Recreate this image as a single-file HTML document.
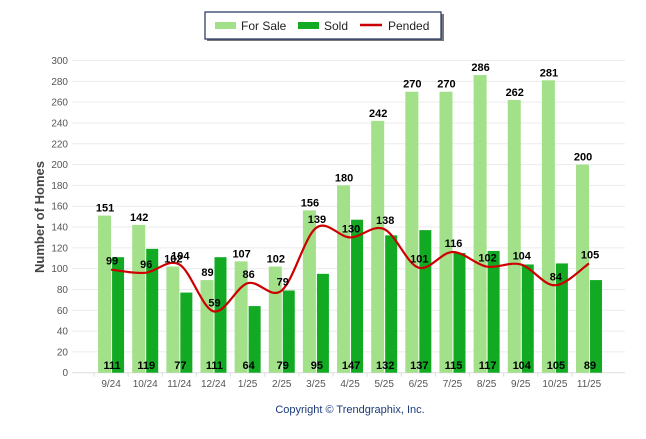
<!DOCTYPE html>
<html><head><meta charset="utf-8"><style>
body{margin:0;background:#fff;width:646px;height:434px;overflow:hidden;font-family:"Liberation Sans",Arial,sans-serif}
svg text{font-family:"Liberation Sans",Arial,sans-serif}
</style></head><body>
<svg width="646" height="434">
<g id="grid"></g><g id="bars"></g><g id="line"></g><g id="labels"></g>
<text x="44" y="217" transform="rotate(-90 44 217)" text-anchor="middle" font-size="13" font-weight="bold" fill="#444">Number of Homes</text>
<text x="350" y="413" text-anchor="middle" font-size="11" fill="#1a3a7a">Copyright © Trendgraphix, Inc.</text>
<g>
<rect x="207" y="14" width="237" height="27" fill="#777"/>
<rect x="205" y="12" width="236" height="27" fill="#fff" stroke="#1f2f5f" stroke-width="1.2"/>
<rect x="215" y="22" width="21" height="7" fill="#a3e08a"/>
<text x="241" y="30" font-size="12" fill="#222">For Sale</text>
<rect x="298" y="22" width="21" height="7" fill="#11aa22"/>
<text x="324" y="30" font-size="12" fill="#222">Sold</text>
<line x1="360" y1="25" x2="382" y2="25" stroke="#cc0000" stroke-width="2.5"/>
<text x="388" y="30" font-size="12" fill="#222">Pended</text>
</g>
</svg>
<script>
const categories=["9/24","10/24","11/24","12/24","1/25","2/25","3/25","4/25","5/25","6/25","7/25","8/25","9/25","10/25","11/25"];
const forSale=[151,142,102,89,107,102,156,180,242,270,270,286,262,281,200];
const sold=[111,119,77,111,64,79,95,147,132,137,115,117,104,105,89];
const pended=[99,96,104,59,86,79,139,130,138,101,116,102,104,84,105];
const yTicks=[0,20,40,60,80,100,120,140,160,180,200,220,240,260,280,300];
const NS="http://www.w3.org/2000/svg";
const y0=372.7,yTop=60.5,bandL=94,bandW=34.14;
const Y=v=>y0-(v/300)*(y0-yTop);
const X=i=>bandL+bandW*(i+0.5);
function mk(tag,attrs,parent,txt){const e=document.createElementNS(NS,tag);for(const k in attrs)e.setAttribute(k,attrs[k]);if(txt!==undefined)e.textContent=txt;parent.appendChild(e);return e;}
const g=document.getElementById('grid'),b=document.getElementById('bars'),l=document.getElementById('line'),lb=document.getElementById('labels');
yTicks.forEach(t=>{
 const ln=mk('line',{x1:72,x2:625,y1:Y(t),y2:Y(t),stroke:t===0?'#ddd':'#ebebeb','stroke-width':1},g);
 
 
 const tx=mk('text',{x:68,y:Y(t)+3.5,'text-anchor':'end','font-size':10,fill:'#555'},g,t);
 
 
});
categories.forEach((c,i)=>{
 const cx=X(i);
 const r1=mk('rect',{x:cx-13,y:Y(forSale[i]),width:13,height:y0-Y(forSale[i]),fill:'#a3e08a'},b);
 
 
 const r2=mk('rect',{x:cx+1,y:Y(sold[i]),width:12,height:y0-Y(sold[i]),fill:'#11aa22'},b);
 
 
 const t1=mk('text',{x:cx-6,y:Y(forSale[i])-4,'text-anchor':'middle','font-size':11,'font-weight':'bold',fill:'#000'},lb,forSale[i]);
 
 
 const t2=mk('text',{x:cx+1,y:369,'text-anchor':'middle','font-size':11,'font-weight':'bold',fill:'#000'},lb,sold[i]);
 
 
 const t3=mk('text',{x:cx+1,y:Y(pended[i])-5,'text-anchor':'middle','font-size':11,'font-weight':'bold',fill:'#000'},lb,pended[i]);
 
 
 const xt=mk('text',{x:cx,y:387,'text-anchor':'middle','font-size':10,fill:'#555'},g,c);
 
 
 const tk=mk('line',{x1:bandL+bandW*i,x2:bandL+bandW*i,y1:y0,y2:y0+4,stroke:'#ddd'},g);
 
 
});
const pts=pended.map((v,i)=>[X(i),Y(v)]);
let d=`M${pts[0][0]},${pts[0][1]}`;
for(let i=0;i<pts.length-1;i++){
 const p0=pts[Math.max(0,i-1)],p1=pts[i],p2=pts[i+1],p3=pts[Math.min(pts.length-1,i+2)];
 const c1=[p1[0]+(p2[0]-p0[0])/6,p1[1]+(p2[1]-p0[1])/6],c2=[p2[0]-(p3[0]-p1[0])/6,p2[1]-(p3[1]-p1[1])/6];
 d+=` C${c1[0]},${c1[1]} ${c2[0]},${c2[1]} ${p2[0]},${p2[1]}`;
}
const path=mk('path',{d:d,fill:'none',stroke:'#cc0000','stroke-width':2.2},l);


</script>
</body></html>
